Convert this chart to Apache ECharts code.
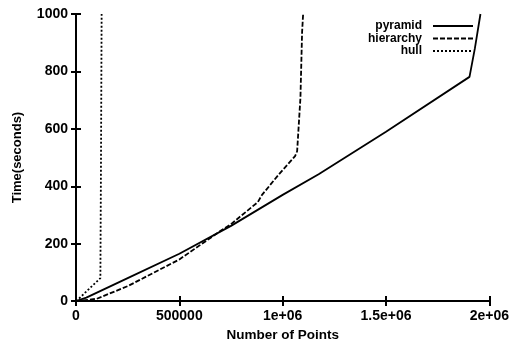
<!DOCTYPE html>
<html>
<head>
<meta charset="utf-8">
<script src="https://cdn.jsdelivr.net/npm/echarts@6/dist/echarts.min.js"></script>
<style>html,body{margin:0;padding:0;background:#fff;}#c{width:512px;height:347px;}</style>
</head>
<body>
<div id="c"></div>
<script>
// Data
const seriesNames = ['pyramid', 'hierarchy', 'hull'];
const pyramidX = [0, 50000, 250000, 500000, 750000, 1000000, 1174000, 1500000, 1904000, 1930000, 1957000];
const pyramidY = [0, 12, 80, 165, 262, 370, 442, 590, 781, 880, 1000];
const hierarchyX = [0, 100000, 250000, 500000, 700000, 750000, 880000, 900000, 980000, 1060000, 1070000, 1086000, 1094000, 1099000];
const hierarchyY = [0, 8, 52, 145, 245, 268, 345, 370, 440, 505, 522, 709, 937, 1000];
const hullX = [0, 16000, 118000, 121000, 124000];
const hullY = [0, 10, 80, 500, 1000];
const xTickLabels = ['0', '500000', '1e+06', '1.5e+06', '2e+06'];
const yTickLabels = ['0', '200', '400', '600', '800', '1000'];
const xName = 'Number of Points';
const yName = 'Time(seconds)';

function pairs(xs, ys) { return xs.map((x, i) => [x, ys[i]]); }

const font = 'Liberation Sans, Arial, Helvetica, sans-serif';
const chart = echarts.init(document.getElementById('c'));
const axisLine = { show: true, lineStyle: { color: '#000', width: 2 } };
const axisTick = { show: true, inside: true, length: 5, lineStyle: { color: '#000', width: 2 } };
chart.setOption({
  animation: false,
  backgroundColor: '#fff',
  grid: { left: 76, right: 20, top: 14, bottom: 39 },
  legend: {
    orient: 'vertical',
    right: 38,
    top: 20,
    padding: 0,
    align: 'right',
    itemWidth: 40,
    itemHeight: 8,
    itemGap: 0.5,
    itemStyle: { color: 'transparent', borderColor: 'transparent', borderWidth: 0 },
    textStyle: { fontFamily: font, fontSize: 12, fontWeight: 'bold', color: '#000', padding: [0, 6, 0, 0] },
    data: seriesNames
  },
  xAxis: [{
    type: 'value', min: 0, max: 2000000, interval: 500000,
    name: xName, nameLocation: 'middle', nameGap: 25,
    nameTextStyle: { fontFamily: font, fontSize: 13.5, fontWeight: 'bold', color: '#000' },
    axisLine: axisLine, axisTick: axisTick,
    axisLabel: { margin: 8, fontFamily: font, fontSize: 14, fontWeight: 'bold', color: '#000',
      formatter: (v) => xTickLabels[Math.round(v / 500000)] },
    splitLine: { show: false }
  }, {
    type: 'value', position: 'top', min: 0, max: 2000000, interval: 500000,
    axisLine: axisLine, axisTick: axisTick, axisLabel: { show: false }, splitLine: { show: false }
  }],
  yAxis: [{
    type: 'value', min: 0, max: 1000, interval: 200,
    name: yName, nameLocation: 'middle', nameGap: 52,
    nameTextStyle: { fontFamily: font, fontSize: 13, fontWeight: 'bold', color: '#000' },
    axisLine: axisLine, axisTick: axisTick,
    axisLabel: { margin: 8, fontFamily: font, fontSize: 14, fontWeight: 'bold', color: '#000',
      formatter: (v) => yTickLabels[Math.round(v / 200)] },
    splitLine: { show: false }
  }, {
    type: 'value', position: 'right', min: 0, max: 1000, interval: 200,
    axisLine: axisLine, axisTick: axisTick, axisLabel: { show: false }, splitLine: { show: false }
  }],
  series: [
    { name: seriesNames[0], type: 'line', symbol: 'none', clip: true, data: pairs(pyramidX, pyramidY),
      lineStyle: { color: '#000', width: 1.8, type: 'solid' }, itemStyle: { color: '#000' } },
    { name: seriesNames[1], type: 'line', symbol: 'none', clip: true, data: pairs(hierarchyX, hierarchyY),
      lineStyle: { color: '#000', width: 1.8, type: [5, 2] }, itemStyle: { color: '#000' } },
    { name: seriesNames[2], type: 'line', symbol: 'none', clip: true, data: pairs(hullX, hullY),
      lineStyle: { color: '#000', width: 1.8, type: [2, 2] }, itemStyle: { color: '#000' } }
  ]
});
</script>
</body>
</html>
